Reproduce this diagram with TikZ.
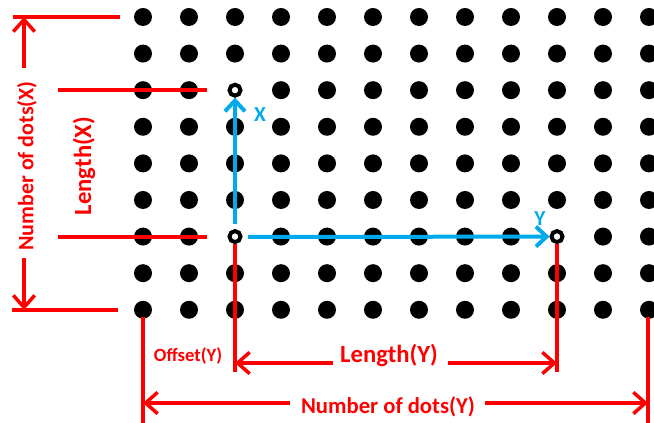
\documentclass[tikz,border=0pt]{standalone}
\usepackage{fontspec}
\setmainfont{Carlito}
\usetikzlibrary{arrows.meta}
\definecolor{dimred}{RGB}{255,0,0}
\definecolor{axisblue}{RGB}{0,170,235}
\tikzset{
  dimline/.style={draw=dimred, line width=2.6pt},
  dimarrow/.style={dimline, -{Straight Barb[length=9pt,width=16pt]}},
  axisarrow/.style={draw=axisblue, line width=3pt, -{Straight Barb[length=8pt,width=15pt]}},
  griddot/.style={circle, fill=black, inner sep=0pt, minimum size=13.5pt},
  hollowdot/.style={circle, draw=black, fill=white, line width=3pt, inner sep=0pt, minimum size=8.25pt},
  dimlabel/.style={text=dimred, font=\bfseries, inner sep=0pt},
  axislabel/.style={text=axisblue, font=\bfseries\fontsize{16}{16}\selectfont, inner sep=0pt},
}
\begin{document}
\begin{tikzpicture}[x=0.75pt,y=-0.75pt]
\useasboundingbox (0,0) rectangle (654,423);
% grid of dots
\foreach \i in {0,...,11}{
  \foreach \j in {0,...,8}{
    \pgfmathtruncatemacro{\skip}{(\i==2 && (\j==2 || \j==6)) || (\i==9 && \j==6)}
    \ifnum\skip=0
      \node[griddot] (d-\i-\j) at ({143+46*\i},{17+36.6*\j}) {};
    \fi
  }
}
% hollow dots
\node[hollowdot] (xend) at (235,90.2) {};
\node[hollowdot] (origin) at (235,236.6) {};
\node[hollowdot] (yend) at (557,236.6) {};
% red reference lines (left)
\coordinate (t1) at (13,17);   \coordinate (t2) at (120,17);
\coordinate (lx1) at (58,90);  \coordinate (lx2) at (207,90);
\coordinate (ly1) at (58,237); \coordinate (ly2) at (207,237);
\coordinate (b1) at (12,310);  \coordinate (b2) at (118,310);
\draw[dimline] (t1) -- (t2);
\draw[dimline] (lx1) -- (lx2);
\draw[dimline] (ly1) -- (ly2);
\draw[dimline] (b1) -- (b2);
\coordinate (nxa) at (24,68);  \coordinate (nxt) at (24,17);
\coordinate (nxb) at (24,258); \coordinate (nxbt) at (24,310);
\draw[dimarrow] (nxa) -- (nxt);
\draw[dimarrow] (nxb) -- (nxbt);
\node[dimlabel, rotate=90, font=\bfseries\fontsize{16.5}{16.5}\selectfont] (numx) at (27,166) {Number of dots(X)};
\node[dimlabel, rotate=90, font=\bfseries\fontsize{18.5}{18.5}\selectfont] (lenx) at (84,166) {Length(X)};
% red reference lines (bottom)
\coordinate (ov) at (235,372);
\coordinate (yv) at (557,372);
\draw[dimline] (origin.south) -- (ov);
\draw[dimline] (yend.south) -- (yv);
\coordinate (n1a) at (143,317); \coordinate (n1b) at (143,423);
\coordinate (n2a) at (648,317); \coordinate (n2b) at (648,423);
\draw[dimline] (n1a) -- (n1b);
\draw[dimline] (n2a) -- (n2b);
\coordinate (la) at (333,363); \coordinate (lat) at (235,363);
\coordinate (lb) at (448,363); \coordinate (lbt) at (557,363);
\draw[dimarrow] (la) -- (lat);
\draw[dimarrow] (lb) -- (lbt);
\coordinate (na) at (290,403); \coordinate (nat) at (143,403);
\coordinate (nb) at (485,403); \coordinate (nbt) at (648,403);
\draw[dimarrow] (na) -- (nat);
\draw[dimarrow] (nb) -- (nbt);
\node[dimlabel, font=\bfseries\fontsize{18.5}{18.5}\selectfont] (leny) at (389,355) {Length(Y)};
\node[dimlabel, font=\bfseries\fontsize{17}{17}\selectfont] (numy) at (388,407) {Number of dots(Y)};
\node[dimlabel, font=\bfseries\fontsize{14}{14}\selectfont] (offy) at (188,356) {Offset(Y)};
% blue axes
\coordinate (xs) at (235,224);
\coordinate (ys) at (248,237);
\draw[axisarrow] (xs) -- (xend.south);
\draw[axisarrow] (ys) -- (yend.west);
\node[axislabel] (xl) at (260,115) {X};
\node[axislabel] (yl) at (540,219) {Y};
\end{tikzpicture}
\end{document}
